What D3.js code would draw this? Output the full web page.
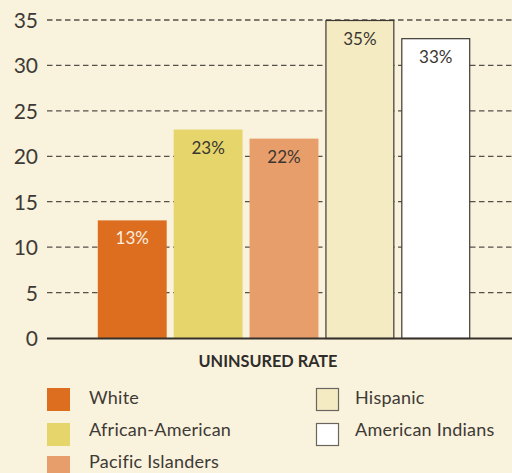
<!DOCTYPE html>
<html><head><meta charset="utf-8">
<script src="https://cdn.jsdelivr.net/npm/d3@7"></script>
<style>
html,body{margin:0;padding:0;background:#f9f2dc;}
svg{display:block;}
text{font-family:Lato,"Open Sans",sans-serif;}
</style></head>
<body>
<svg id="chart" width="512" height="473"></svg>
<script>
const categories = ["White","African-American","Pacific Islanders","Hispanic","American Indians"];
const values = [13, 23, 22, 35, 33];
const labels = ["13%","23%","22%","35%","33%"];
const yTicks = [0,5,10,15,20,25,30,35];
const colors = ["#dd6e1f","#e6d56a","#e89e6a","#f4ebc2","#ffffff"];
const strokes = [null,null,null,"#3d3a35","#3d3a35"];
const labelColors = ["#fbeee0","#3a3632","#3a3632","#3a3632","#3a3632"];
const xTitle = "UNINSURED RATE";

const svg = d3.select("#chart");
const y = d3.scaleLinear().domain([0,35]).range([338,20]);
const x = d3.scaleBand().domain(categories).range([94,474]).paddingInner(0.092).paddingOuter(0.05);

// gridlines
const grid = svg.append("g");
grid.selectAll("line").data(yTicks.filter(d=>d>0)).enter().append("line")
  .attr("x1",47).attr("x2",512)
  .attr("y1",d=>y(d)).attr("y2",d=>y(d))
  .attr("stroke","#55504a").attr("stroke-width",1.3)
  .attr("stroke-dasharray","5.5,3.5");

// y axis labels
const yAxis = d3.axisLeft(y).tickValues(yTicks).tickSize(0).tickPadding(0);
const ya = svg.append("g").attr("transform","translate(38,0)").call(yAxis);
ya.select(".domain").remove();
ya.selectAll("text").attr("font-size",21).attr("fill","#3e3a36")
  .attr("font-family","Lato,'Open Sans',sans-serif").attr("font-weight",400).attr("dy","0.36em");

// bars
svg.selectAll("rect.bar").data(values).enter().append("rect")
  .attr("class","bar")
  .attr("x",(d,i)=>x(categories[i]) + (strokes[i]?0.5:0))
  .attr("width",(d,i)=>x.bandwidth() - (strokes[i]?1:0))
  .attr("y",d=>y(d)+0.5)
  .attr("height",d=>y(0)-y(d))
  .attr("fill",(d,i)=>colors[i])
  .attr("stroke",(d,i)=>strokes[i]||"none")
  .attr("stroke-width",1.2);

// bar labels
svg.selectAll("text.lab").data(values).enter().append("text")
  .attr("class","lab")
  .attr("x",(d,i)=>x(categories[i])+x.bandwidth()/2)
  .attr("y",d=>y(d)+24.5)
  .attr("text-anchor","middle")
  .attr("font-size",17).attr("font-weight",400)
  .attr("fill",(d,i)=>labelColors[i])
  .text((d,i)=>labels[i]);

// baseline
svg.append("line").attr("x1",47).attr("x2",512).attr("y1",y(0)+0.5).attr("y2",y(0)+0.5)
  .attr("stroke","#35302b").attr("stroke-width",2.2);

// x title
svg.append("text").attr("x",268).attr("y",367).attr("text-anchor","middle")
  .attr("font-size",16.3).attr("font-weight",700).attr("fill","#2f2c29")
  .text(xTitle);

// legend
const legSq = [[47,388],[47,423],[47,456],[316,388],[316,423]];
const legTx = [[89,404],[89,436],[89,468],[355,404],[355,436]];
const leg = svg.append("g");
categories.forEach((c,i)=>{
  const [lx,ly]=legSq[i];
  leg.append("rect").attr("x",lx+(strokes[i]?0.5:0)).attr("y",ly+(strokes[i]?0.5:0))
    .attr("width",strokes[i]?22:23).attr("height",strokes[i]?22:23)
    .attr("fill",colors[i]).attr("stroke",strokes[i]?"#6a655e":"none").attr("stroke-width",1.2);
  leg.append("text").attr("x",legTx[i][0]).attr("y",legTx[i][1])
    .attr("font-size",18).attr("letter-spacing",0.25).attr("font-weight",400)
    .attr("fill","#3e3a36").text(c);
});
</script>
</body></html>
